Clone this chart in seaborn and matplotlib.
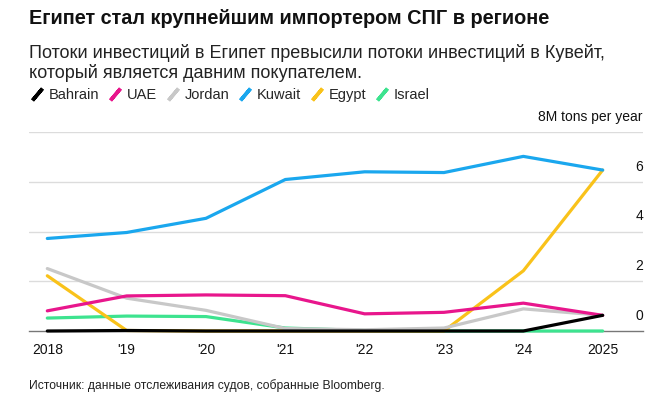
import matplotlib
matplotlib.use("Agg")
import matplotlib.pyplot as plt
import matplotlib.transforms as mtransforms
from matplotlib.lines import Line2D
from matplotlib import font_manager
import seaborn as sns
import pandas as pd

# data (million tons per year)
years = [2018, 2019, 2020, 2021, 2022, 2023, 2024, 2025]
year_labels = ["2018", "'19", "'20", "'21", "'22", "'23", "'24", "2025"]
bahrain = [0.0, 0.02, 0.0, 0.0, 0.0, 0.0, 0.0, 0.63]
uae = [0.81, 1.41, 1.45, 1.42, 0.69, 0.75, 1.12, 0.63]
jordan = [2.51, 1.32, 0.83, 0.10, 0.05, 0.12, 0.89, 0.63]
kuwait = [3.72, 3.96, 4.53, 6.09, 6.40, 6.37, 7.02, 6.47]
egypt = [2.22, 0.02, 0.0, 0.0, 0.0, 0.0, 2.42, 6.47]
israel = [0.52, 0.60, 0.58, 0.12, 0.02, 0.0, 0.0, 0.0]

countries = ["Bahrain", "UAE", "Jordan", "Kuwait", "Egypt", "Israel"]
colors = {"Bahrain": "#000000", "UAE": "#E8168C", "Jordan": "#C8C8C8",
          "Kuwait": "#1AA7EE", "Egypt": "#F9C21A", "Israel": "#3DE38F"}
y_ticks = [0, 2, 4, 6, 8]
y_labels = ["0", "2", "4", "6", "8M tons per year"]

rows = []
for name, vals in zip(countries, [bahrain, uae, jordan, kuwait, egypt, israel]):
    for yr, v in zip(years, vals):
        rows.append({"year": yr, "value": v, "country": name})
df = pd.DataFrame(rows)

sns.set_style("white")
installed = {f.name for f in font_manager.fontManager.ttflist}
narrow = "Liberation Sans Narrow" if "Liberation Sans Narrow" in installed else "Liberation Sans"
plt.rcParams["font.family"] = ["Liberation Sans", "DejaVu Sans"]

fig = plt.figure(figsize=(6.72, 4.0), dpi=100)
ax = fig.add_axes([0.0436, 0.1725, 0.9132, 0.4975])

sns.lineplot(data=df, x="year", y="value", hue="country",
             hue_order=["Israel", "Egypt", "Kuwait", "Jordan", "UAE", "Bahrain"],
             palette=colors, linewidth=2.3, legend=False, ax=ax, clip_on=False,
             zorder=3)

ax.set_xlim(2017.773, 2025.508)
ax.set_ylim(0, 8)
for t in y_ticks[1:]:
    ax.axhline(t, color="#DCDCDC", linewidth=1, zorder=1)
for s in ["top", "right", "left"]:
    ax.spines[s].set_visible(False)
ax.spines["bottom"].set_color("#777777")
ax.spines["bottom"].set_linewidth(1)
ax.set_yticks([])
ax.set_xticks(years)
ax.set_xticklabels(year_labels, fontsize=10, color="#111111")
ax.tick_params(axis="x", length=4, width=0.8, color="#777777", pad=5, direction="out")
ax.set_xlabel("")
ax.set_ylabel("")

trans = mtransforms.offset_copy(
    mtransforms.blended_transform_factory(ax.transAxes, ax.transData),
    fig=fig, y=10.8, units="points")
for t, lab in zip(y_ticks, y_labels):
    ax.text(1.0, t, lab, transform=trans, ha="right", va="center",
            fontsize=10, color="#111111")

fig.text(0.043, 0.955, "Египет стал крупнейшим импортером СПГ в регионе",
         family=[narrow, "DejaVu Sans"], fontsize=14.3, fontweight="bold",
         ha="left", va="center", color="#111111")
fig.text(0.043, 0.868, "Потоки инвестиций в Египет превысили потоки инвестиций в Кувейт,",
         family=[narrow, "DejaVu Sans"], fontsize=13, ha="left", va="center",
         color="#222222")
fig.text(0.043, 0.818, "который является давним покупателем.",
         family=[narrow, "DejaVu Sans"], fontsize=13, ha="left", va="center",
         color="#222222")
fig.text(0.043, 0.037, "Источник: данные отслеживания судов, собранные Bloomberg.",
         family=[narrow, "DejaVu Sans"], fontsize=8.7, ha="left", va="center",
         color="#222222")

handles = [Line2D([], [], color=colors[c], marker=(2, 2, -40), markersize=11,
                  markeredgewidth=2.6, linestyle="none") for c in countries]
fig.legend(handles, countries, loc="center left", bbox_to_anchor=(0.035, 0.762),
           ncol=6, frameon=False, fontsize=10.5, handlelength=1.0,
           handletextpad=0.3, columnspacing=0.6, borderaxespad=0)

fig.savefig("out.png", dpi=100)
